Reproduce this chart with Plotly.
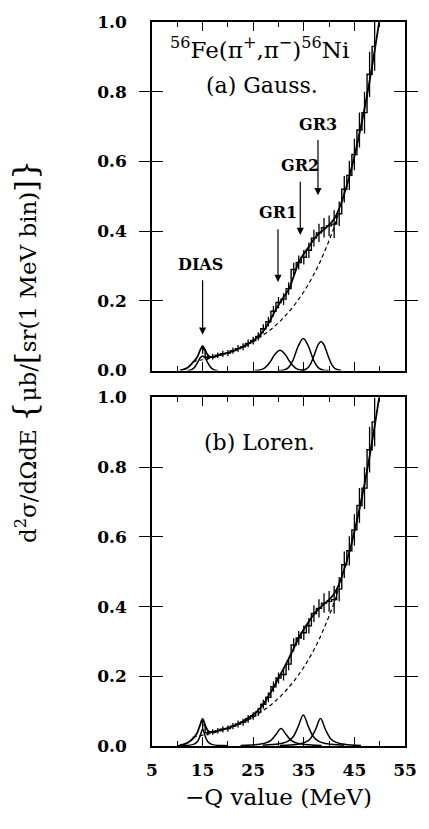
import plotly.graph_objects as go

# ---------------- data ----------------
E_data = list(range(15, 50))
data_val = [0.060, 0.038, 0.040, 0.044, 0.048, 0.050, 0.057, 0.063, 0.068, 0.078,
            0.086, 0.098, 0.120, 0.140, 0.170, 0.195, 0.205, 0.235, 0.290, 0.310,
            0.325, 0.345, 0.380, 0.395, 0.410, 0.415, 0.420, 0.450, 0.520, 0.560,
            0.620, 0.690, 0.740, 0.850, 0.930]
data_err = [0.012, 0.008, 0.008, 0.008, 0.009, 0.009, 0.009, 0.010, 0.010, 0.011,
            0.011, 0.012, 0.013, 0.014, 0.015, 0.016, 0.017, 0.018, 0.019, 0.020,
            0.021, 0.022, 0.024, 0.026, 0.028, 0.030, 0.040, 0.035, 0.038, 0.042,
            0.045, 0.050, 0.060, 0.065, 0.070]

E_tot = [10.5, 11, 12, 13, 13.5, 14, 14.5, 15, 15.5, 16, 16.5, 17, 18, 19, 20, 21, 22,
         23, 24, 25, 26, 27, 28, 29, 30, 31, 32, 33, 34, 35, 36, 37, 38, 39, 40, 41,
         42, 43, 44, 45, 46, 47, 48, 49, 50, 51]
tot_a = [0.0, 0.002, 0.008, 0.022, 0.030, 0.040, 0.058, 0.070, 0.058, 0.045, 0.039,
         0.039, 0.043, 0.047, 0.051, 0.056, 0.062, 0.069, 0.077, 0.086, 0.098, 0.113,
         0.135, 0.162, 0.188, 0.210, 0.232, 0.270, 0.310, 0.335, 0.355, 0.377, 0.393,
         0.405, 0.418, 0.435, 0.465, 0.507, 0.557, 0.615, 0.680, 0.751, 0.830, 0.917,
         1.010, 1.110]
tot_b = [0.002, 0.004, 0.009, 0.020, 0.028, 0.040, 0.060, 0.078, 0.060, 0.045, 0.040,
         0.040, 0.044, 0.048, 0.052, 0.057, 0.063, 0.071, 0.080, 0.090, 0.103, 0.120,
         0.143, 0.168, 0.195, 0.222, 0.250, 0.280, 0.310, 0.335, 0.357, 0.378, 0.394,
         0.407, 0.420, 0.437, 0.466, 0.507, 0.557, 0.615, 0.680, 0.751, 0.830, 0.917,
         1.010, 1.110]

E_bg = list(range(13, 43))
bg = [0.025, 0.028, 0.031, 0.034, 0.037, 0.041, 0.046, 0.051, 0.056, 0.062, 0.068,
      0.075, 0.083, 0.092, 0.102, 0.112, 0.124, 0.137, 0.152, 0.168, 0.185, 0.205,
      0.226, 0.250, 0.276, 0.305, 0.338, 0.373, 0.412, 0.456]

# Gaussian components (a)
ga_dias_x = [12, 12.5, 13, 13.5, 14, 14.5, 15, 15.5, 16, 16.5, 17, 17.5, 18]
ga_dias_y = [0.0, 0.001, 0.004, 0.011, 0.023, 0.036, 0.042, 0.036, 0.023, 0.011, 0.004, 0.001, 0.0]
ga_gr1_x = [25.3, 26.3, 27.3, 28.3, 29.3, 30.3, 31.3, 32.3, 33.3, 34.3, 35.3]
ga_gr1_y = [0.0, 0.0016, 0.0078, 0.0238, 0.0465, 0.058, 0.0465, 0.0238, 0.0078, 0.0016, 0.0]
ga_gr2_x = [29.9, 30.9, 31.9, 32.9, 33.9, 34.9, 35.9, 36.9, 37.9, 38.9, 39.9]
ga_gr2_y = [0.0, 0.0011, 0.0078, 0.031, 0.070, 0.092, 0.070, 0.031, 0.0078, 0.0011, 0.0]
ga_gr3_x = [34.4, 35.4, 35.9, 36.4, 36.9, 37.4, 37.9, 38.4, 38.9, 39.4, 39.9, 40.4, 40.9, 41.4, 42.4]
ga_gr3_y = [0.0004, 0.0036, 0.0095, 0.0207, 0.038, 0.0587, 0.076, 0.083, 0.076, 0.0587, 0.038, 0.0207, 0.0095, 0.0036, 0.0004]

# Lorentzian components (b)
lb_dias_x = [10, 11, 12, 13, 13.5, 14, 14.5, 15, 15.5, 16, 16.5, 17, 18, 19, 20]
lb_dias_y = [0.0007, 0.0011, 0.0018, 0.004, 0.0066, 0.0127, 0.0283, 0.048, 0.0283, 0.0127, 0.0066, 0.004, 0.0018, 0.0011, 0.0007]
lb_gr1_x = [22.5, 24.5, 26.5, 27.5, 28.5, 29.5, 30.5, 31.5, 32.5, 33.5, 34.5, 36.5, 38.5]
lb_gr1_y = [0.0015, 0.0026, 0.0055, 0.0089, 0.0164, 0.033, 0.050, 0.033, 0.0164, 0.0089, 0.0055, 0.0026, 0.0015]
lb_gr2_x = [26.9, 28.9, 30.9, 31.9, 32.9, 33.9, 34.9, 35.9, 36.9, 37.9, 38.9, 40.9, 42.9]
lb_gr2_y = [0.0023, 0.004, 0.0085, 0.0141, 0.0264, 0.0559, 0.089, 0.0559, 0.0264, 0.0141, 0.0085, 0.004, 0.0023]
lb_gr3_x = [30.3, 32.3, 34.3, 35.3, 36.3, 37.3, 38.3, 39.3, 40.3, 41.3, 42.3, 44.3, 46.3]
lb_gr3_y = [0.0017, 0.003, 0.0065, 0.0109, 0.0209, 0.0466, 0.079, 0.0466, 0.0209, 0.0109, 0.0065, 0.003, 0.0017]

x_major = [5, 15, 25, 35, 45, 55]
x_minor = [10, 20, 30, 40, 50]
y_ticks = [0.0, 0.2, 0.4, 0.6, 0.8, 1.0]

# ---------------- figure ----------------
fig = go.Figure()
BLK = "black"


def add_panel(xa, ya, tot, comps):
    for cx, cy in comps:
        fig.add_trace(go.Scatter(x=cx, y=cy, mode="lines", line=dict(color=BLK, width=1.5, shape="spline"),
                                 xaxis=xa, yaxis=ya, hoverinfo="skip"))
    fig.add_trace(go.Scatter(x=E_bg, y=bg, mode="lines",
                             line=dict(color=BLK, width=1.2, dash="4px,3px", shape="spline"),
                             xaxis=xa, yaxis=ya, hoverinfo="skip"))
    fig.add_trace(go.Scatter(x=E_tot, y=tot, mode="lines", line=dict(color=BLK, width=1.8, shape="spline"),
                             xaxis=xa, yaxis=ya, hoverinfo="skip"))
    fig.add_trace(go.Scatter(x=E_data, y=data_val, mode="lines", line=dict(color=BLK, width=1.4, shape="hvh"),
                             error_y=dict(type="data", array=data_err, thickness=1.3, width=0, color=BLK),
                             xaxis=xa, yaxis=ya, hoverinfo="skip"))


add_panel("x", "y", tot_a, [(ga_dias_x, ga_dias_y), (ga_gr1_x, ga_gr1_y), (ga_gr2_x, ga_gr2_y), (ga_gr3_x, ga_gr3_y)])
add_panel("x2", "y2", tot_b, [(lb_dias_x, lb_dias_y), (lb_gr1_x, lb_gr1_y), (lb_gr2_x, lb_gr2_y), (lb_gr3_x, lb_gr3_y)])
# empty traces so the minor-tick overlay axes get drawn
fig.add_trace(go.Scatter(x=[None], y=[None], xaxis="x3", yaxis="y", hoverinfo="skip"))
fig.add_trace(go.Scatter(x=[None], y=[None], xaxis="x4", yaxis="y2", hoverinfo="skip"))

tickfont = dict(family="DejaVu Serif", size=17, color=BLK, weight="bold")
xcommon = dict(range=[5, 55], tickmode="array", tickvals=x_major, ticks="inside", ticklen=9,
               tickwidth=1.4, tickcolor=BLK,
               showline=True, linecolor=BLK, linewidth=1.6, mirror="allticks", showgrid=False, zeroline=False,
               tickfont=tickfont)
xminor = dict(range=[5, 55], tickmode="array", tickvals=x_minor, ticks="inside", ticklen=5, tickwidth=1.4,
              tickcolor=BLK, showline=False, mirror="allticks", showgrid=False, zeroline=False,
              showticklabels=False, side="bottom")
ycommon = dict(range=[0, 1], tickmode="array", tickvals=y_ticks, tickformat=".1f", ticks="inside", ticklen=11,
               tickwidth=1.4, tickcolor=BLK, showline=True, linecolor=BLK, linewidth=1.6, mirror="allticks",
               showgrid=False, zeroline=False, tickfont=tickfont, ticklabelstandoff=20)

fig.update_layout(
    width=429, height=829, margin=dict(l=152, r=16, t=19, b=83),
    plot_bgcolor="white", paper_bgcolor="white", showlegend=False,
    xaxis=dict(domain=[0, 1], anchor="y", showticklabels=False, **xcommon),
    yaxis=dict(domain=[0.5186, 1.0], anchor="x", **ycommon),
    xaxis2=dict(domain=[0, 1], anchor="y2", showticklabels=True, ticklabelstandoff=8, **xcommon),
    yaxis2=dict(domain=[0.0, 0.4814], anchor="x2", **ycommon),
    xaxis3=dict(overlaying="x", anchor="y", **xminor),
    xaxis4=dict(overlaying="x2", anchor="y2", **xminor),
)

serif = "DejaVu Serif"
ann = []
ann.append(dict(x=26.3, y=0.926, xref="x", yref="y", showarrow=False,
                text="<sup>56</sup>Fe(π<sup>+</sup>,π<sup>−</sup>)<sup>56</sup>Ni",
                font=dict(family=serif, size=23, color=BLK)))
ann.append(dict(x=26.8, y=0.817, xref="x", yref="y", showarrow=False, text="(a) Gauss.",
                font=dict(family=serif, size=22, color=BLK)))
ann.append(dict(x=26.3, y=0.871, xref="x2", yref="y2", showarrow=False, text="(b) Loren.",
                font=dict(family=serif, size=22, color=BLK)))

labels = [("DIAS", 14.6, 0.303, 15.0, 0.263, 0.103),
          ("GR1", 29.9, 0.454, 29.9, 0.41, 0.254),
          ("GR2", 34.3, 0.589, 34.3, 0.546, 0.389),
          ("GR3", 37.8, 0.706, 37.8, 0.666, 0.503)]
for t, tx, ty, axx, y0, y1 in labels:
    ann.append(dict(x=tx, y=ty, xref="x", yref="y", showarrow=False, text=t,
                    font=dict(family=serif, size=16, color=BLK, weight="bold")))
    ann.append(dict(x=axx, y=y1, ax=axx, ay=y0, xref="x", yref="y", axref="x", ayref="y", text="",
                    showarrow=True, arrowhead=2, arrowsize=1.2, arrowwidth=1.2, arrowcolor=BLK))

ann.append(dict(x=0.5, y=-0.070, xref="paper", yref="paper", showarrow=False, text="−Q value (MeV)",
                xanchor="center", yanchor="middle", font=dict(family=serif, size=23, color=BLK)))
ann.append(dict(x=-0.50, y=0.545, xref="paper", yref="paper", showarrow=False, textangle=-90,
                xanchor="center", yanchor="middle",
                text="d<sup>2</sup>σ/dΩdE <span style='font-size:32px'>{</span>μb/<span style='font-size:30px'>[</span>sr(1 MeV bin)<span style='font-size:30px'>]</span><span style='font-size:32px'>}</span>",
                font=dict(family=serif, size=23, color=BLK)))
fig.update_layout(annotations=ann)

fig.write_html("out.html")
